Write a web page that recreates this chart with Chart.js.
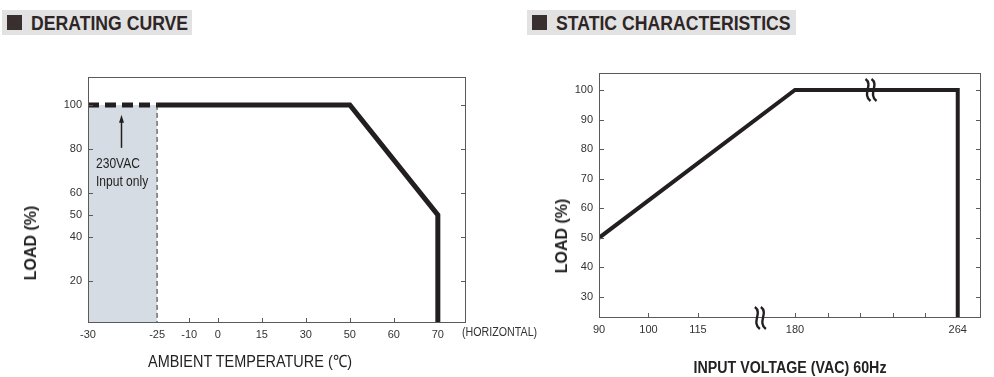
<!DOCTYPE html>
<html><head><meta charset="utf-8">
<script src="https://cdn.jsdelivr.net/npm/chart.js@4/dist/chart.umd.min.js"></script>
<style>
html,body{margin:0;padding:0;background:#fff;width:994px;height:377px;overflow:hidden;}
body{position:relative;font-family:"Liberation Sans",Arial,sans-serif;color:#2b2b2b;}
.hdr{position:absolute;top:10px;height:25px;background:#e2e2e2;}
.hdr .sq{position:absolute;left:5px;top:5px;width:15px;height:15px;background:#3a2f2f;}
.hdr .tx{position:absolute;left:29px;top:0;line-height:25px;font-weight:bold;font-size:21px;color:#2e2626;white-space:nowrap;transform-origin:left center;transform:scaleX(0.84);}
.lbl{position:absolute;white-space:nowrap;color:#222;line-height:1;}
.l{transform-origin:left center;transform:scaleX(0.86);}
canvas{position:absolute;top:0;}
</style></head>
<body>
<div class="hdr" style="left:2px;width:190px;"><div class="sq"></div><div class="tx">DERATING CURVE</div></div>
<div class="hdr" style="left:527px;width:269px;"><div class="sq"></div><div class="tx">STATIC CHARACTERISTICS</div></div>

<canvas id="c1" width="530" height="377" style="left:0"></canvas>
<canvas id="c2" width="464" height="377" style="left:530px"></canvas>

<div class="lbl" style="left:31px;top:243px;font-size:16px;font-weight:bold;transform:translate(-50%,-50%) rotate(-90deg);">LOAD (%)</div>
<div class="lbl" style="left:250px;top:361px;font-size:17px;transform:translate(-50%,-50%) scaleX(0.85);">AMBIENT TEMPERATURE (℃)</div>
<div class="lbl l" style="left:462px;top:326px;font-size:12px;color:#333;transform:scaleX(0.89);">(HORIZONTAL)</div>
<div class="lbl l" style="left:96px;top:156px;font-size:14px;">230VAC</div>
<div class="lbl l" style="left:96px;top:174px;font-size:14px;">Input only</div>
<div class="lbl" style="left:562px;top:236px;font-size:16px;font-weight:bold;transform:translate(-50%,-50%) rotate(-90deg);">LOAD (%)</div>
<div class="lbl" style="left:790px;top:368px;font-size:16px;font-weight:bold;transform:translate(-50%,-50%) scaleX(0.89);">INPUT VOLTAGE (VAC) 60Hz</div>

<script>
// ---------- DATA ----------
// Derating curve
const tempTicks = [-30, -25, -10, 0, 15, 30, 50, 60, 70];
const tempTickLabels = ['-30', '-25', '-10', '0', '15', '30', '50', '60', '70'];
const loadTicksLeft = [20, 40, 50, 60, 80, 100];
const derateTemp = [-25, 50, 70, 70];
const derateLoad = [100, 100, 50, 0];
const lowTempTemp = [-30, -25];      // 230VAC input only region
const lowTempLoad = [100, 100];

// Static characteristics
const voltTicks = [90, 100, 115, 180, 264];
const voltTickLabels = ['90', '100', '115', '180', '264'];
const voltMinorTicks = [196.8, 213.6, 230.4, 247.2];
const loadTicksRight = [30, 40, 50, 60, 70, 80, 90, 100];
const staticVolt = [90, 180, 264, 264];
const staticLoad = [50, 100, 100, 0];

// ---------- non-linear axis layouts (value -> slot) ----------
const tempStops = {v: tempTicks, s: [0, 1.57, 2.3, 2.95, 3.95, 4.95, 5.95, 6.95, 7.95], max: 8.59};
const voltStops = {v: voltTicks, s: [0, 1, 2, 3.96, 7.25], max: 7.72};
function slot(st, val) {
  const v = st.v, s = st.s;
  if (val <= v[0]) return s[0];
  for (let i = 1; i < v.length; i++) {
    if (val <= v[i]) return s[i-1] + (val - v[i-1]) / (v[i] - v[i-1]) * (s[i] - s[i-1]);
  }
  return s[s.length-1];
}
function pts(st, xs, ys) { return xs.map((x, i) => ({x: slot(st, x), y: ys[i]})); }

const INK = '#231f20';
const FONT = "'Liberation Sans',Arial,sans-serif";

const framePlugin = {
  id: 'frame',
  afterDatasetsDraw(chart, args, o) {
    const {ctx, chartArea: a, scales: {x, y}} = chart;
    ctx.save();
    ctx.strokeStyle = '#5a5a5a';
    ctx.lineWidth = 1;
    ctx.strokeRect(a.left + 0.5, a.top + 0.5, a.right - a.left - 1, a.bottom - a.top - 1);
    ctx.beginPath();
    o.left.forEach(v => { const p = Math.round(y.getPixelForValue(v)) + 0.5; ctx.moveTo(a.left, p); ctx.lineTo(a.left + 5, p); });
    o.right.forEach(v => { const p = Math.round(y.getPixelForValue(v)) + 0.5; ctx.moveTo(a.right, p); ctx.lineTo(a.right - 5, p); });
    o.bottom.forEach(v => { const p = Math.round(x.getPixelForValue(slot(o.stops, v))) + 0.5; ctx.moveTo(p, a.bottom); ctx.lineTo(p, a.bottom - 5); });
    ctx.stroke();
    // arrow
    if (o.arrow) {
      const ax = Math.round(x.getPixelForValue(slot(o.stops, o.arrow.x))) + 0.5;
      const y0 = y.getPixelForValue(o.arrow.from), y1 = y.getPixelForValue(o.arrow.to);
      ctx.strokeStyle = INK; ctx.fillStyle = INK; ctx.lineWidth = 1.5;
      ctx.beginPath(); ctx.moveTo(ax, y0); ctx.lineTo(ax, y1 + 6); ctx.stroke();
      ctx.beginPath(); ctx.moveTo(ax, y1); ctx.lineTo(ax - 2.5, y1 + 8); ctx.lineTo(ax + 2.5, y1 + 8); ctx.closePath(); ctx.fill();
    }
    // break marks
    (o.breaks || []).forEach(b => {
      const cx = x.getPixelForValue(slot(o.stops, b.x));
      const cy = y.getPixelForValue(b.y);
      ctx.strokeStyle = INK; ctx.lineWidth = 2.4;
      [-3, 3].forEach(dx => {
        const px = cx + dx;
        ctx.beginPath();
        ctx.moveTo(px - 2, cy - 11);
        ctx.bezierCurveTo(px + 6, cy - 5, px - 6, cy + 4, px + 3, cy + 11);
        ctx.stroke();
      });
    });
    ctx.restore();
  }
};

function makeAxisX(st, tickVals, labels, padLabel) {
  return {
    type: 'linear', min: 0, max: st.max,
    afterBuildTicks: ax => { ax.ticks = tickVals.map(v => ({value: slot(st, v)})); },
    afterFit: ax => { ax.height = padLabel; },
    ticks: {callback: (v, i) => labels[i], color: '#333', font: {family: FONT, size: 11}, padding: 5, maxRotation: 0, autoSkip: false},
    grid: {display: false, drawTicks: false},
    border: {display: false}
  };
}
function makeAxisY(min, max, tickVals, width) {
  return {
    type: 'linear', min: min, max: max,
    afterBuildTicks: ax => { ax.ticks = tickVals.map(v => ({value: v})); },
    afterFit: ax => { ax.width = width; },
    ticks: {color: '#333', font: {family: FONT, size: 11}, padding: 6, autoSkip: false},
    grid: {display: false, drawTicks: false},
    border: {display: false}
  };
}
const baseLine = {pointRadius: 0, borderColor: INK, tension: 0, fill: false};

new Chart(document.getElementById('c1'), {
  type: 'line',
  data: {datasets: [
    {data: pts(tempStops, lowTempTemp, lowTempLoad), fill: 'start', backgroundColor: '#d6dce3', borderWidth: 0, pointRadius: 0, order: 4},
    {...baseLine, data: pts(tempStops, [-25, -25], [100, 0]), borderWidth: 1, borderDash: [5, 3], borderColor: '#333', clip: 0, order: 3},
    {...baseLine, data: pts(tempStops, lowTempTemp, lowTempLoad), borderWidth: 5, borderDash: [11, 6], order: 2},
    {...baseLine, data: pts(tempStops, derateTemp, derateLoad), borderWidth: 5, borderJoinStyle: 'miter', clip: 0, order: 1}
  ]},
  options: {
    responsive: false, animation: false, parsing: false,
    layout: {padding: {left: 0, top: 77, right: 64, bottom: 0}},
    plugins: {legend: {display: false}, tooltip: {enabled: false},
      frame: {stops: tempStops, left: loadTicksLeft, right: [20, 40, 60, 80, 100], bottom: [-10, 0, 15, 30, 50, 60],
              arrow: {x: -27.6, from: 80.5, to: 95.5}}},
    scales: {x: makeAxisX(tempStops, tempTicks, tempTickLabels, 54), y: makeAxisY(0.9, 112.7, loadTicksLeft, 88)}
  },
  plugins: [framePlugin]
});

new Chart(document.getElementById('c2'), {
  type: 'line',
  data: {datasets: [
    {...baseLine, data: pts(voltStops, staticVolt, staticLoad), borderWidth: 4, borderJoinStyle: 'miter', clip: 0}
  ]},
  options: {
    responsive: false, animation: false, parsing: false,
    layout: {padding: {left: 0, top: 73, right: 13, bottom: 0}},
    plugins: {legend: {display: false}, tooltip: {enabled: false},
      frame: {stops: voltStops, left: loadTicksRight, right: loadTicksRight, bottom: [100, 115, 180].concat(voltMinorTicks),
              breaks: [{x: 156.5, y: 22.9}, {x: 219, y: 100}]}},
    scales: {x: makeAxisX(voltStops, voltTicks, voltTickLabels, 59), y: makeAxisY(22.9, 105.75, loadTicksRight, 69)}
  },
  plugins: [framePlugin]
});
</script>
</body></html>
